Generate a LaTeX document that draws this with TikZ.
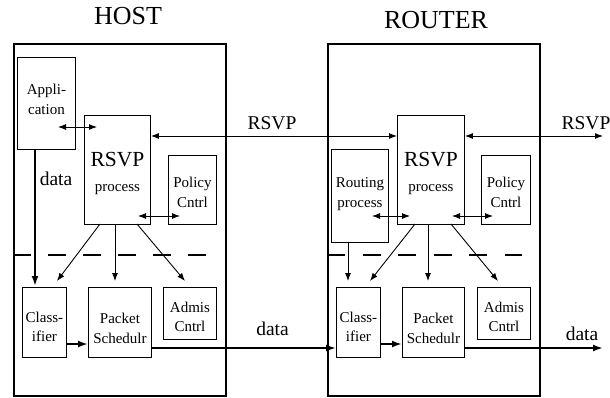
\documentclass[tikz,border=0pt]{standalone}
\usepackage{fontspec}
\setmainfont{Liberation Serif}
\usetikzlibrary{arrows.meta}
\newcommand\fs[2]{\fontsize{#1}{#2}\selectfont}
% struts that nudge a multi-line label down (taller first line) or up (deeper last line)
\newcommand\topstrut[1]{\rule{0pt}{#1}}
\newcommand\botstrut[1]{\rule[-#1]{0pt}{0pt}}

\begin{document}
\begin{tikzpicture}[x=1pt,y=-1pt,
  outer/.style={draw, line width=2.2pt, inner sep=0pt, anchor=north west},
  box/.style={draw, line width=0.9pt, inner sep=0pt, anchor=north west, align=center, font=\fs{15}{19.5}},
  thin/.style={line width=0.9pt, -{Latex[length=8pt,width=6pt]}},
  both/.style={line width=0.9pt, {Latex[length=8pt,width=6pt]}-{Latex[length=8pt,width=6pt]}},
  thickarr/.style={line width=2pt, -{Latex[length=10pt,width=7pt]}},
  sep/.style={line width=2.5pt},
  big/.style={font=\fs{26}{30}, anchor=base},
  lab/.style={font=\fs{19.5}{22}, anchor=base},
]
\useasboundingbox (0,0) rectangle (610,397);

% titles
\node[big] (hosttitle) at (128,24.5) {HOST};
\node[big] (routertitle) at (436,28) {ROUTER};

% outer frames
\node[outer, minimum width=212pt, minimum height=352pt] (host) at (13,43) {};
\node[outer, minimum width=212pt, minimum height=352pt] (router) at (327,43) {};

% ---------- host components ----------
\node[box, minimum width=58pt, minimum height=92pt] (app) at (17,57) {Appli-\\cation\botstrut{8pt}};
\node[box, minimum width=66pt, minimum height=109pt, font=\fs{15}{25}] (hrsvp) at (84,115)
  {\topstrut{21.2pt}{\fs{21.5}{25}RSVP}\\process};
\node[box, minimum width=48pt, minimum height=69pt, font=\fs{15}{20}] (hpol) at (168,155) {\topstrut{15.2pt}Policy\\Cntrl};
\node[box, minimum width=44pt, minimum height=70pt, font=\fs{15}{19}] (hcls) at (22,287) {\topstrut{19pt}Class-\\ifier};
\node[box, minimum width=63pt, minimum height=70pt, font=\fs{15}{20.5}] (hpkt) at (88,287) {\topstrut{22pt}Packet\\Schedulr};
\node[box, minimum width=53pt, minimum height=52pt, font=\fs{15}{19}] (hadm) at (163,287) {\topstrut{17.2pt}Admis\\Cntrl};

% ---------- router components ----------
\node[box, minimum width=57pt, minimum height=93pt, font=\fs{15}{20}] (rrout) at (331,149) {Routing\\process\botstrut{7.3pt}};
\node[box, minimum width=67pt, minimum height=109pt, font=\fs{15}{25}] (rrsvp) at (397,115)
  {\topstrut{21.2pt}{\fs{21.5}{25}RSVP}\\process};
\node[box, minimum width=49pt, minimum height=69pt, font=\fs{15}{20}] (rpol) at (481,155) {\topstrut{15.2pt}Policy\\Cntrl};
\node[box, minimum width=44pt, minimum height=70pt, font=\fs{15}{19}] (rcls) at (336,287) {\topstrut{19pt}Class-\\ifier};
\node[box, minimum width=62pt, minimum height=70pt, font=\fs{15}{20.5}] (rpkt) at (402,287) {\topstrut{22pt}Packet\\Schedulr};
\node[box, minimum width=53pt, minimum height=52pt, font=\fs{15}{19}] (radm) at (477,287) {\topstrut{17.2pt}Admis\\Cntrl};

% ---------- dashed separators ----------
\draw[sep, dash pattern=on 18pt off 17pt] (host.west |- 0,255) -- (207,255);
\draw[sep, dash pattern=on 18pt off 17.5pt] (router.west |- 0,255) -- (522,255);

% ---------- helper coordinates ----------
\coordinate (rsvpy) at (0,136);
\coordinate (rsvpend) at (603,136);
\coordinate (dataend) at (603,348);

% ---------- RSVP signalling ----------
\draw[both] (58,127) -- (97,127);
\draw[both] (hrsvp.east |- rsvpy) -- (rrsvp.west |- rsvpy);
\draw[both] (rrsvp.east |- rsvpy) -- (rsvpend);
\node[lab] (rsvplab1) at (272,129) {RSVP};
\node[lab] (rsvplab2) at (586,129) {RSVP};

% local exchanges
\draw[both] (138,216) -- (180,216);
\draw[both] (372,216) -- (410,216);
\draw[both] (452,216) -- (493,216);

% ---------- host control paths ----------
\draw[thickarr] (app.south -| 35,0) -- (35,286);
\node[lab] (datalab1) at (56,185) {data};
\draw[thin] (100,224) -- (57,281);
\draw[thin] (115,224) -- (115,281);
\draw[thin] (137,224) -- (185,281);

% ---------- router control paths ----------
\draw[thin] (rrout.south -| 348,0) -- (348,281);
\draw[thin] (415,224) -- (370,281);
\draw[thin] (428,224) -- (428,281);
\draw[thin] (451,224) -- (498,281);

% ---------- data path ----------
\draw[thickarr] (hcls.east |- 0,344) -- (hpkt.west |- 0,344);
\draw[thickarr] (rcls.east |- 0,344) -- (rpkt.west |- 0,344);
\draw[thickarr] (hpkt.east |- 0,348) -- (rcls.west |- 0,348);
\draw[thickarr] (rpkt.east |- 0,348) -- (dataend);
\node[lab] (datalab2) at (272.5,335) {data};
\node[lab] (datalab3) at (582,340) {data};
\end{tikzpicture}
\end{document}
